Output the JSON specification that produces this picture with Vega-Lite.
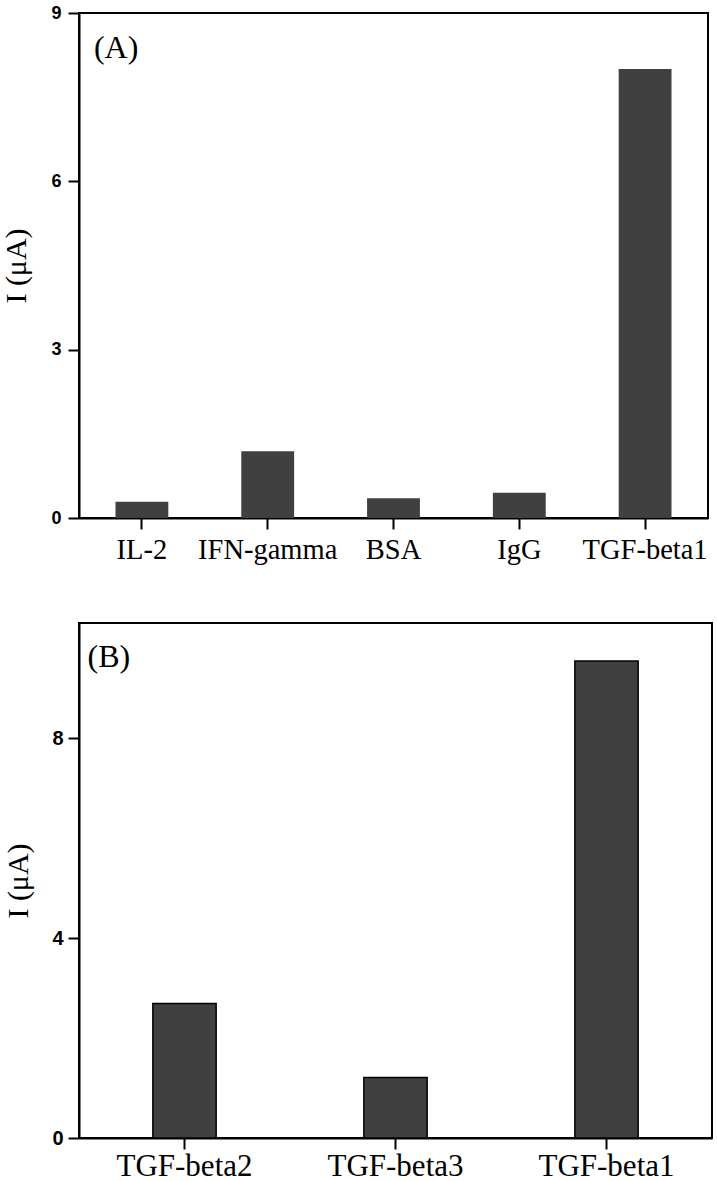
{
  "$schema": "https://vega.github.io/schema/vega-lite/v6.json",
  "padding": {"left": 0, "top": 3, "right": 0, "bottom": 0},
  "background": "white",
  "spacing": 57,
  "config": {
    "view": {"stroke": "black", "strokeWidth": 2},
    "axis": {"domainColor": "black", "domainWidth": 2, "tickColor": "black", "tickWidth": 2, "tickSize": 11, "grid": false, "labelColor": "black", "titleColor": "black"},
    "axisX": {"labelFont": "Liberation Serif", "labelAngle": 0},
    "axisY": {"labelFont": "Liberation Sans", "labelFontWeight": "bold", "titleFont": "Liberation Serif", "titleFontSize": 30, "titleFontWeight": "normal", "format": "d"}
  },
  "vconcat": [
    {
      "width": 629,
      "height": 505,
      "data": {"values": [
        {"sample": "IL-2", "current": 0.29},
        {"sample": "IFN-gamma", "current": 1.19},
        {"sample": "BSA", "current": 0.35},
        {"sample": "IgG", "current": 0.45},
        {"sample": "TGF-beta1", "current": 8.0}
      ]},
      "layer": [
        {
          "mark": {"type": "bar", "color": "#404040"},
          "encoding": {
            "x": {"field": "sample", "type": "nominal", "sort": null, "scale": {"paddingInner": 0.58, "paddingOuter": 0.29}, "axis": {"title": null, "labelFontSize": 28.5, "labelPadding": 6}},
            "y": {"field": "current", "type": "quantitative", "scale": {"domain": [0, 9], "nice": false}, "axis": {"values": [0, 3, 6, 9], "title": "I (μA)", "labelFontSize": 18, "labelPadding": 7, "titlePadding": 19}}
          }
        },
        {
          "data": {"values": [{"label": "(A)", "sample": "IL-2", "current": 8.38}]},
          "mark": {"type": "text", "font": "Liberation Serif", "fontSize": 32, "align": "left", "baseline": "middle", "dx": -48, "color": "black"},
          "encoding": {
            "x": {"field": "sample", "type": "nominal", "sort": null},
            "y": {"field": "current", "type": "quantitative"},
            "text": {"field": "label"}
          }
        }
      ]
    },
    {
      "width": 633,
      "height": 515,
      "data": {"values": [
        {"sample": "TGF-beta2", "current": 2.69},
        {"sample": "TGF-beta3", "current": 1.21},
        {"sample": "TGF-beta1", "current": 9.54}
      ]},
      "layer": [
        {
          "mark": {"type": "bar", "color": "#404040", "stroke": "black", "strokeWidth": 1.5},
          "encoding": {
            "x": {"field": "sample", "type": "nominal", "sort": null, "scale": {"paddingInner": 0.7, "paddingOuter": 0.35}, "axis": {"title": null, "labelFontSize": 31, "labelPadding": 2}},
            "y": {"field": "current", "type": "quantitative", "scale": {"domain": [0, 10.3], "nice": false}, "axis": {"values": [0, 4, 8], "title": "I (μA)", "labelFontSize": 20, "labelPadding": 5, "titlePadding": 18}}
          }
        },
        {
          "data": {"values": [{"label": "(B)", "sample": "TGF-beta2", "current": 9.63}]},
          "mark": {"type": "text", "font": "Liberation Serif", "fontSize": 32, "align": "left", "baseline": "middle", "dx": -97, "color": "black"},
          "encoding": {
            "x": {"field": "sample", "type": "nominal", "sort": null},
            "y": {"field": "current", "type": "quantitative"},
            "text": {"field": "label"}
          }
        }
      ]
    }
  ]
}
